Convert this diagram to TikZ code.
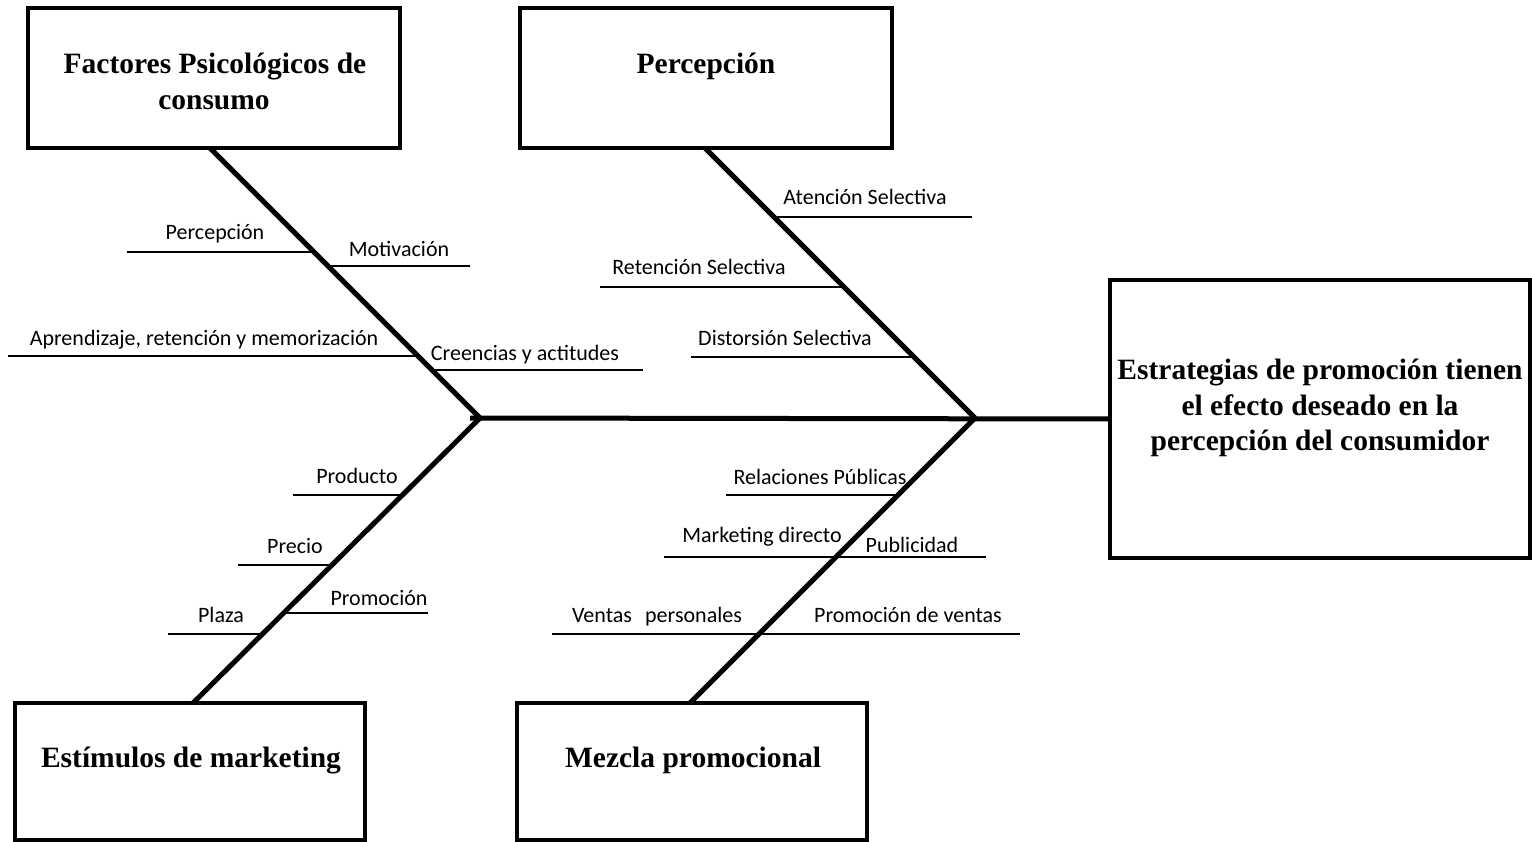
\documentclass[tikz,border=0pt]{standalone}
\usepackage{fontspec}
\setmainfont{Liberation Serif}
\newfontfamily\lblfont{Carlito}
\begin{document}
\begin{tikzpicture}[x=1pt,y=-1pt,
  boxnode/.style={draw, line width=4pt, inner sep=0pt},
  head/.style={font=\fontsize{29.5}{36}\selectfont\bfseries, inner sep=0pt, anchor=base},
  lbl/.style={font=\lblfont\fontsize{22}{26}\selectfont, inner sep=0pt, anchor=base},
  bone/.style={line width=5pt},
  twig/.style={line width=2pt}]
\useasboundingbox (0,0) rectangle (1532,842);

% boxes
\node[boxnode, minimum width=372pt, minimum height=140pt] (f1) at (214,78) {};
\node[boxnode, minimum width=372pt, minimum height=140pt] (f2) at (706,78) {};
\node[boxnode, minimum width=420pt, minimum height=278pt] (f3) at (1320,419) {};
\node[boxnode, minimum width=350pt, minimum height=137pt] (f4) at (190,771.5) {};
\node[boxnode, minimum width=350pt, minimum height=137pt] (f5) at (692,771.5) {};

% box texts
\node[head] (f1a) at (215,74) {Factores Psicológicos de};
\node[head] (f1b) at (214,110) {consumo};
\node[head] (f2a) at (706,74) {Percepción};
\node[head] (f3a) at (1320,380) {Estrategias de promoción tienen};
\node[head] (f3b) at (1320,415) {el efecto deseado en la};
\node[head] (f3c) at (1320,450) {percepción del consumidor};
\node[head] (f4a) at (191,767) {Estímulos de marketing};
\node[head] (f5a) at (693,767) {Mezcla promocional};

% spine and bones
\coordinate (hd) at (470,418);
\coordinate (j1) at (480,418);
\coordinate (j2) at (975,418);
\coordinate (b1) at (210,148);
\coordinate (b2) at (705,148);
\coordinate (b4) at (193,703);
\coordinate (b5) at (690,703);
\draw[bone] (hd) -- (f3.west);
\draw[bone] (b1) -- (j1);
\draw[bone] (b2) -- (j2);
\draw[bone] (j1) -- (b4);
\draw[bone] (j2) -- (b5);

% twigs top-left
\coordinate (p1a) at (127,252); \coordinate (p1b) at (314,252);
\coordinate (p2a) at (328,266); \coordinate (p2b) at (470,266);
\coordinate (p3a) at (8,356);   \coordinate (p3b) at (418,356);
\coordinate (p4a) at (432,370); \coordinate (p4b) at (643,370);
\draw[twig] (p1a) -- (p1b);
\draw[twig] (p2a) -- (p2b);
\draw[twig] (p3a) -- (p3b);
\draw[twig] (p4a) -- (p4b);
\node[lbl] (t1) at (215,240) {Percepción};
\node[lbl] (t2) at (399,257) {Motivación};
\node[lbl] (t3) at (204,346) {Aprendizaje, retención y memorización};
\node[lbl] (t4) at (525,360) {Creencias y actitudes};

% twigs top-right
\coordinate (q1a) at (774,217); \coordinate (q1b) at (972,217);
\coordinate (q2a) at (600,287); \coordinate (q2b) at (844,287);
\coordinate (q3a) at (691,357); \coordinate (q3b) at (914,357);
\draw[twig] (q1a) -- (q1b);
\draw[twig] (q2a) -- (q2b);
\draw[twig] (q3a) -- (q3b);
\node[lbl] (u1) at (865,205) {Atención Selectiva};
\node[lbl] (u2) at (699,275) {Retención Selectiva};
\node[lbl] (u3) at (785,345) {Distorsión Selectiva};

% twigs bottom-left
\coordinate (r1a) at (293,495); \coordinate (r1b) at (402,495);
\coordinate (r2a) at (238,565); \coordinate (r2b) at (332,565);
\coordinate (r3a) at (284,613); \coordinate (r3b) at (428,613);
\coordinate (r4a) at (168,634); \coordinate (r4b) at (262,634);
\draw[twig] (r1a) -- (r1b);
\draw[twig] (r2a) -- (r2b);
\draw[twig] (r3a) -- (r3b);
\draw[twig] (r4a) -- (r4b);
\node[lbl] (v1) at (357,483) {Producto};
\node[lbl] (v2) at (295,553) {Precio};
\node[lbl] (v3) at (379,605) {Promoción};
\node[lbl] (v4) at (221,622) {Plaza};

% twigs bottom-right
\coordinate (s1a) at (726,495); \coordinate (s1b) at (900,495);
\coordinate (s2a) at (664,557); \coordinate (s2b) at (986,557);
\coordinate (s3a) at (552,634); \coordinate (s3b) at (1020,634);
\draw[twig] (s1a) -- (s1b);
\draw[twig] (s2a) -- (s2b);
\draw[twig] (s3a) -- (s3b);
\node[lbl] (w1) at (820,484) {Relaciones Públicas};
\node[lbl] (w2) at (762,542) {Marketing directo};
\node[lbl] (w3) at (912,552) {Publicidad};
\node[lbl] (w4) at (657,622) {Ventas\hspace{0.6em}personales};
\node[lbl] (w5) at (908,622) {Promoción de ventas};
\end{tikzpicture}
\end{document}
